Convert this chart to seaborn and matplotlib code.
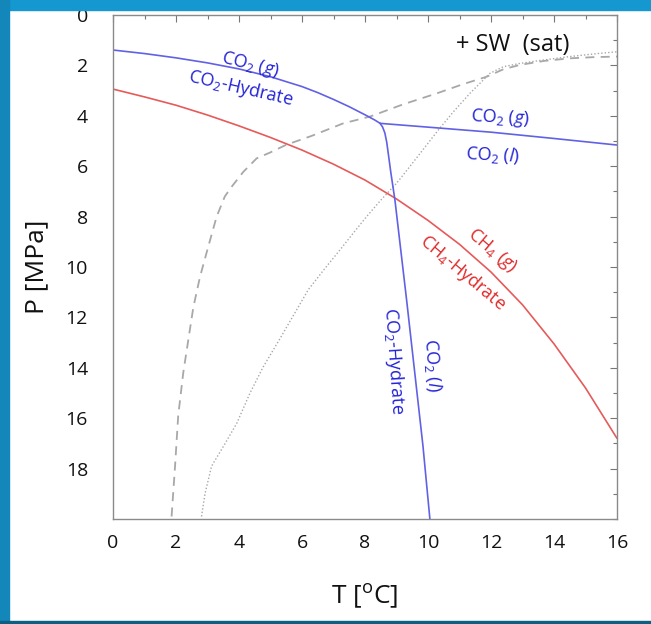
import matplotlib
matplotlib.use("Agg")
import matplotlib.pyplot as plt
import matplotlib.patches as mpatches
from matplotlib.ticker import MultipleLocator
import pandas as pd
import seaborn as sns

# ---- data (T in degC, P in MPa) ----
co2_hg_T = [0.0, 1.0, 2.0, 3.0, 4.0, 5.0, 6.0, 6.5, 7.0, 7.5, 8.0, 8.3, 8.48]
co2_hg_P = [1.39, 1.53, 1.70, 1.90, 2.14, 2.45, 2.84, 3.08, 3.35, 3.64, 3.96, 4.16, 4.3]

co2_gl_T = [8.48, 10.0, 12.0, 14.0, 16.0]
co2_gl_P = [4.3, 4.45, 4.65, 4.9, 5.16]

co2_hl_T = [8.48, 8.56, 8.63, 8.69, 8.75, 8.82, 8.95, 9.32, 9.84, 10.06]
co2_hl_P = [4.3, 4.45, 4.68, 5.05, 5.6, 6.25, 7.34, 11.3, 17.1, 20.0]

ch4_T = [0.0, 1.0, 2.0, 3.0, 4.0, 5.0, 6.0, 7.0, 8.0, 9.0, 10.0, 11.0, 12.0,
         13.0, 14.0, 15.0, 16.0]
ch4_P = [2.94, 3.25, 3.58, 3.97, 4.4, 4.86, 5.36, 5.92, 6.55, 7.3, 8.15, 9.1, 10.2,
         11.5, 13.05, 14.8, 16.8]

dash_T = [1.86, 1.97, 2.07, 2.23, 2.39, 2.55, 2.76, 3.0, 3.29, 3.55, 3.77, 4.14,
          4.56, 5.0, 5.5, 6.3, 7.31, 8.16, 9.2, 10.28, 11.1, 11.86, 12.4, 12.92,
          13.7, 14.5, 15.3, 16.0]
dash_P = [19.9, 17.9, 15.9, 14.2, 12.9, 11.6, 10.4, 9.3, 8.0, 7.2, 6.81, 6.22,
          5.69, 5.45, 5.15, 4.8, 4.3, 4.03, 3.55, 3.11, 2.75, 2.45, 2.15, 1.98,
          1.82, 1.72, 1.67, 1.65]

dot_T = [2.81, 2.92, 3.13, 3.56, 3.93, 4.35, 4.77, 5.25, 5.83, 6.2, 6.7, 7.2,
         7.6, 8.05, 8.5, 9.0, 9.4, 9.75, 10.33, 10.8, 11.33, 11.97, 12.4, 12.92,
         13.7, 14.5, 15.3, 16.0]
dot_P = [19.9, 19.0, 17.9, 17.0, 16.2, 15.0, 13.96, 12.95, 11.7, 10.9, 10.1, 9.33,
         8.7, 8.0, 7.35, 6.68, 6.05, 5.49, 4.56, 3.85, 3.11, 2.31, 2.05, 1.92,
         1.78, 1.65, 1.54, 1.46]

x_ticks = [0, 2, 4, 6, 8, 10, 12, 14, 16]
y_ticks = [0, 2, 4, 6, 8, 10, 12, 14, 16, 18]

FONT = "Open Sans"
sns.set_style("white")
plt.rcParams["font.family"] = [FONT, "DejaVu Sans"]
plt.rcParams["mathtext.fontset"] = "custom"
plt.rcParams["mathtext.rm"] = FONT
plt.rcParams["mathtext.it"] = FONT + ":italic"

fig = plt.figure(figsize=(6.51, 6.24), dpi=100)
fig.patch.set_facecolor("white")
# blue frame strips
fig.patches.append(mpatches.Rectangle((0, 1 - 10 / 624), 1, 10 / 624,
                                      transform=fig.transFigure, color="#1597cf", zorder=0))
fig.patches.append(mpatches.Rectangle((0, 0), 9 / 651, 1,
                                      transform=fig.transFigure, color="#1386ba", zorder=0))
fig.patches.append(mpatches.Rectangle((0, 0), 1, 3 / 624,
                                      transform=fig.transFigure, color="#0c5f80", zorder=0))

ax = fig.add_axes([113 / 651, 1 - 519 / 624, 504 / 651, 504 / 624])

BLUE_L = "#6161e6"
BLUE_T = "#2323d6"
RED_L = "#e65a5a"
RED_T = "#e02a2a"
GRAY = "#a8a8a8"

def line(T, P, **kw):
    df = pd.DataFrame({"T": T, "P": P})
    sns.lineplot(data=df, x="T", y="P", sort=False, estimator=None, ax=ax, **kw)

line(dot_T, dot_P, color=GRAY, lw=1.0, linestyle=(0, (1, 1.5)))
line(dash_T, dash_P, color=GRAY, lw=1.3, linestyle=(0, (5, 3.5)))
line(ch4_T, ch4_P, color=RED_L, lw=1.2)
line(co2_hg_T, co2_hg_P, color=BLUE_L, lw=1.2)
line(co2_gl_T, co2_gl_P, color=BLUE_L, lw=1.2)
line(co2_hl_T, co2_hl_P, color=BLUE_L, lw=1.2)

ax.set_xlim(0, 16)
ax.set_ylim(20, 0)
ax.set_xticks(x_ticks)
ax.set_yticks(y_ticks)
ax.xaxis.set_minor_locator(MultipleLocator(1))
ax.yaxis.set_minor_locator(MultipleLocator(1))
ax.tick_params(which="both", direction="in", top=True, right=True,
               color="#777777", width=0.8)
ax.tick_params(which="major", length=5, labelsize=14, labelcolor="#111111")
ax.tick_params(which="minor", length=3)
ax.tick_params(axis="x", which="major", pad=11)
ax.tick_params(axis="y", which="major", pad=18)
for s in ax.spines.values():
    s.set_color("#8a8a8a")
    s.set_linewidth(1.0)

ax.set_xlabel("T [$^\\mathrm{o}$C]", fontsize=19, labelpad=22, color="#111111")
ax.set_ylabel("P [MPa]", fontsize=19, labelpad=12, color="#111111")

fs = 13
ax.text(4.35, 2.0, "CO$_2$ ($\\mathit{g}$)", color=BLUE_T, fontsize=fs,
        rotation=-14, ha="center", va="center")
ax.text(4.05, 2.9, "CO$_2$-Hydrate", color=BLUE_T, fontsize=fs,
        rotation=-13, ha="center", va="center")
ax.text(12.7, 1.2, "+ SW  (sat)", color="#111111", fontsize=17,
        ha="center", va="center")
ax.text(12.3, 4.1, "CO$_2$ ($\\mathit{g}$)", color=BLUE_T, fontsize=fs,
        rotation=-3, ha="center", va="center")
ax.text(12.05, 5.55, "CO$_2$ ($\\mathit{l}$)", color=BLUE_T, fontsize=fs,
        rotation=-3, ha="center", va="center")
ax.text(12.05, 9.35, "CH$_4$ ($\\mathit{g}$)", color=RED_T, fontsize=fs,
        rotation=-40, ha="center", va="center")
ax.text(11.1, 10.25, "CH$_4$-Hydrate", color=RED_T, fontsize=fs,
        rotation=-40, ha="center", va="center")
ax.text(8.92, 13.7, "CO$_2$-Hydrate", color=BLUE_T, fontsize=fs,
        rotation=-86, ha="center", va="center")
ax.text(10.13, 13.9, "CO$_2$ ($\\mathit{l}$)", color=BLUE_T, fontsize=fs,
        rotation=-86, ha="center", va="center")

fig.savefig("out.png", dpi=100)
